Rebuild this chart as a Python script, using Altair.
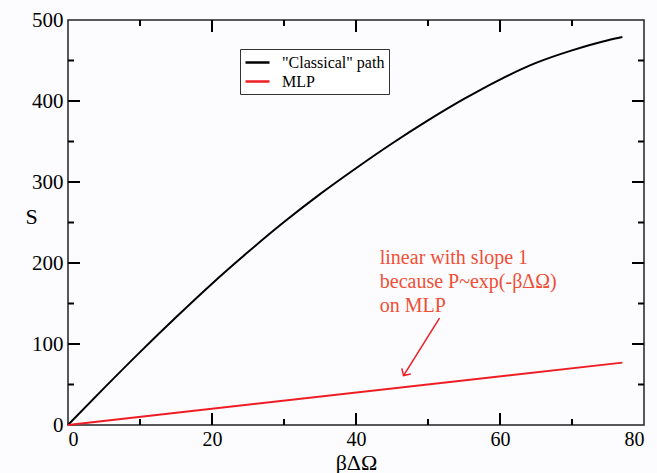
import math

import altair as alt
import pandas as pd

# Action S along the classical path and along the MLP
beta_domega = [0, 5, 10, 15, 20, 25, 30, 35, 40, 45, 50, 55, 60, 65, 70, 75, 77]
s_classical = [0, 45.5, 90, 133, 174.5, 213.5, 250.5, 285, 317, 347.5, 376, 402.5, 426.5, 447, 462.5, 475, 479]
mlp_x = [0, 77]
mlp_s = [0, 77]

series_names = ['"Classical" path', "MLP"]
series_colors = ["#000000", "#ee1d23"]

# Annotation
note_lines = ["linear with slope 1", "because P~exp(-βΔΩ)", "on MLP"]
note_x = [43.3, 43.3, 43.3]
note_s = [199, 169, 139]
arrow_x = [51.6, 46.6]
arrow_s = [132, 61]

# Axis ticks
x_labels = [0, 20, 40, 60, 80]
y_labels = [0, 100, 200, 300, 400, 500]
x_major = [20, 40, 60]
x_minor = [10, 30, 50, 70]
y_major = [100, 200, 300, 400]
y_minor = [50, 150, 250, 350, 450]

W, H = 576, 405
FONT = "Liberation Serif"
x_scale = alt.Scale(domain=[0, 80], nice=False, zero=False)
y_scale = alt.Scale(domain=[0, 500], nice=False, zero=False)

lines_df = pd.concat(
    [
        pd.DataFrame({"x": beta_domega, "s": s_classical, "series": series_names[0]}),
        pd.DataFrame({"x": mlp_x, "s": mlp_s, "series": series_names[1]}),
    ],
    ignore_index=True,
)

lines = (
    alt.Chart(lines_df)
    .mark_line(strokeWidth=2, interpolate="monotone")
    .encode(
        x=alt.X(
            "x:Q",
            scale=x_scale,
            axis=alt.Axis(
                values=x_labels,
                ticks=False,
                domain=False,
                grid=False,
                labelFont=FONT,
                labelFontSize=20,
                labelColor="black",
                labelPadding=4,
                title="βΔΩ",
                titleFont=FONT,
                titleFontSize=22,
                titleFontWeight="normal",
                titleColor="black",
                titleBaseline="alphabetic",
                titleY=44,
            ),
        ),
        y=alt.Y(
            "s:Q",
            scale=y_scale,
            axis=alt.Axis(
                values=y_labels,
                ticks=False,
                domain=False,
                grid=False,
                labelFont=FONT,
                labelFontSize=21,
                labelColor="black",
                labelPadding=5,
                title="S",
                titleFont=FONT,
                titleFontSize=22,
                titleFontWeight="normal",
                titleColor="black",
                titleAngle=0,
                titleAlign="center",
                titleBaseline="middle",
                titleX=-37,
                titleY=196,
            ),
        ),
        color=alt.Color(
            "series:N",
            scale=alt.Scale(domain=series_names, range=series_colors),
            sort=series_names,
            legend=alt.Legend(
                title=None,
                orient="none",
                legendX=172,
                legendY=29,
                symbolType="M -1 0 L 2 0",
                symbolSize=256,
                symbolStrokeWidth=2.5,
                symbolFillColor="transparent",
                labelFont=FONT,
                labelFontSize=16,
                labelColor="black",
                labelOffset=19,
                labelLimit=300,
                fillColor="white",
                strokeColor="#333333",
                padding=4,
                rowPadding=1,
                cornerRadius=0,
            ),
        ),
    )
)

note_df = pd.DataFrame({"x": note_x, "s": note_s, "line": note_lines})
note = (
    alt.Chart(note_df)
    .mark_text(align="left", baseline="alphabetic", font=FONT, fontSize=20, color="#f04e36")
    .encode(x=alt.X("x:Q", scale=x_scale), y=alt.Y("s:Q", scale=y_scale), text="line:N")
)

arrow_df = pd.DataFrame({"x": [arrow_x[0]], "s": [arrow_s[0]], "x2": [arrow_x[1]], "s2": [arrow_s[1]]})
arrow_line = (
    alt.Chart(arrow_df)
    .mark_rule(color="#ee1d23", strokeWidth=1.5)
    .encode(x=alt.X("x:Q", scale=x_scale), y=alt.Y("s:Q", scale=y_scale), x2="x2:Q", y2="s2:Q")
)

# Orientation of the arrow head in screen space
dx = (arrow_x[1] - arrow_x[0]) * W / 80
dy = (arrow_s[0] - arrow_s[1]) * H / 500
head_angle = math.degrees(math.atan2(dx, -dy)) % 360

head_df = pd.DataFrame({"x": [arrow_x[1]], "s": [arrow_s[1]]})
arrow_head = (
    alt.Chart(head_df)
    .mark_point(
        shape="M -1 1 L 0 0 L 1 1",
        filled=False,
        size=110,
        angle=head_angle,
        color="#ee1d23",
        strokeWidth=1.5,
        opacity=1,
    )
    .encode(x=alt.X("x:Q", scale=x_scale), y=alt.Y("s:Q", scale=y_scale))
)


def x_ticks(values, length):
    df = pd.DataFrame({"v": values})
    base = alt.Chart(df).mark_rule(color="black", strokeWidth=2)
    bottom = base.encode(x=alt.X("v:Q", scale=x_scale), y=alt.value(H), y2=alt.value(H - length))
    top = base.encode(x=alt.X("v:Q", scale=x_scale), y=alt.value(0), y2=alt.value(length))
    return [bottom, top]


def y_ticks(values, length):
    df = pd.DataFrame({"v": values})
    base = alt.Chart(df).mark_rule(color="black", strokeWidth=2)
    left = base.encode(y=alt.Y("v:Q", scale=y_scale), x=alt.value(0), x2=alt.value(length))
    right = base.encode(y=alt.Y("v:Q", scale=y_scale), x=alt.value(W), x2=alt.value(W - length))
    return [left, right]


ticks = x_ticks(x_major, 12) + x_ticks(x_minor, 6) + y_ticks(y_major, 12) + y_ticks(y_minor, 6)

chart = (
    alt.layer(lines, *ticks, arrow_line, arrow_head, note)
    .properties(
        width=W,
        height=H,
        autosize=alt.AutoSizeParams(type="none"),
        padding={"left": 68, "top": 20, "right": 13, "bottom": 48},
        background="#fcfcfe",
    )
    .configure_view(stroke="#222222", strokeWidth=1.5)
)

chart.save("out.html", embed_options={"renderer": "svg", "actions": False})
